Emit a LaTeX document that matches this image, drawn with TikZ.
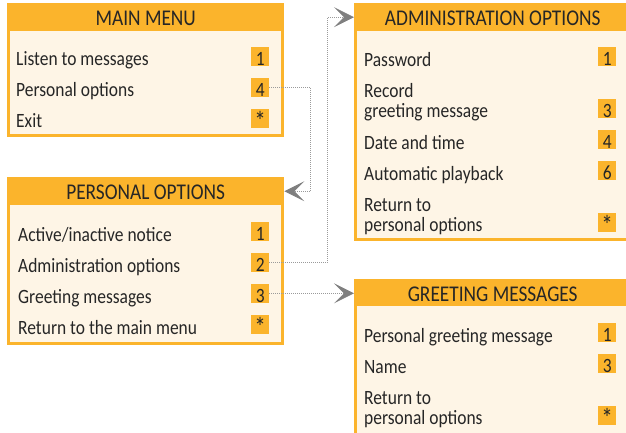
\documentclass[tikz,border=0pt]{standalone}
\usepackage{fontspec}
\setmainfont{Carlito}[FakeStretch=0.86]
\usetikzlibrary{arrows.meta}
\definecolor{org}{HTML}{FBB42C}
\definecolor{light}{HTML}{FEF5E6}
\definecolor{txt}{HTML}{262626}
\definecolor{agray}{HTML}{7F7F7F}
\definecolor{lgray}{HTML}{9A9A9A}
\newcommand{\astx}{\raisebox{-3pt}{\fontsize{27}{27}\selectfont *}}
\begin{document}
\begin{tikzpicture}[x=1pt,y=-1pt,
  hdr/.style={fill=org, text=txt, font=\fontsize{22.5}{22.5}\selectfont, minimum width=277pt, minimum height=28pt, inner sep=0pt, text height=17.5pt, text depth=0pt, anchor=north west},
  num/.style={fill=org, text=txt, font=\fontsize{20.3}{20.3}\selectfont, minimum width=18pt, minimum height=19pt, inner sep=0pt, text height=19pt, text depth=0pt, anchor=south west},
  item/.style={text=txt, font=\fontsize{20.3}{20.3}\selectfont, inner sep=0pt, anchor=base west},
  link/.style={draw=lgray, line width=0.8pt, dash pattern=on 0.8pt off 1.2pt, -{Stealth[length=20pt,width=20pt,inset=10pt,color=agray]}}
]
\useasboundingbox (0,0) rectangle (626,432);
% frames
\fill[org] (7,3) rectangle (284,137);
\fill[light] (10,31) rectangle (281,134);
\fill[org] (7,177) rectangle (284,345);
\fill[light] (10,205) rectangle (281,342);
\fill[org] (354,3) rectangle (631,241);
\fill[light] (357,31) rectangle (628,238);
\fill[org] (354,279) rectangle (631,445);
\fill[light] (357,306) rectangle (628,442);
% main menu
\node[hdr] (mmh) at (7,3) {MAIN MENU};
\node[item] (mm1t) at (16,65.5) {Listen to messages};
\node[num] (mm1) at (251,66) {1};
\node[item] (mm4t) at (16,96.5) {Personal options};
\node[num] (mm4) at (251,97) {4};
\node[item] (mmxt) at (16,127.5) {Exit};
\node[num] (mmx) at (251,128) {\astx};
% personal options
\node[hdr] (poh) at (7,177) {PERSONAL OPTIONS};
\node[item] (po1t) at (18,241) {Active/inactive notice};
\node[num] (po1) at (251,241) {1};
\node[item] (po2t) at (18,272) {Administration options};
\node[num] (po2) at (251,272) {2};
\node[item] (po3t) at (18,303) {Greeting messages};
\node[num] (po3) at (251,303) {3};
\node[item] (poxt) at (18,334) {Return to the main menu};
\node[num] (pox) at (251,334) {\astx};
% administration options
\node[hdr] (adh) at (354,3) {ADMINISTRATION OPTIONS};
\node[item] (ad1t) at (364,66) {Password};
\node[num] (ad1) at (598,66) {1};
\node[item] (ad3a) at (364,97) {Record};
\node[item] (ad3t) at (364,117) {greeting message};
\node[num] (ad3) at (598,118) {3};
\node[item] (ad4t) at (364,149) {Date and time};
\node[num] (ad4) at (598,149) {4};
\node[item] (ad6t) at (364,180) {Automatic playback};
\node[num] (ad6) at (598,180) {6};
\node[item] (adxa) at (364,211) {Return to};
\node[item] (adxt) at (364,231) {personal options};
\node[num] (adx) at (598,232) {\astx};
% greeting messages
\node[hdr, minimum height=27pt] (gmh) at (354,279) {GREETING MESSAGES};
\node[item] (gm1t) at (364,342) {Personal greeting message};
\node[num] (gm1) at (598,342) {1};
\node[item] (gm3t) at (364,373) {Name};
\node[num] (gm3) at (598,373) {3};
\node[item] (gmxa) at (364,404) {Return to};
\node[item] (gmxt) at (364,424) {personal options};
\node[num] (gmx) at (598,425) {\astx};
% connectors
\draw[link] (mm4.east) -- ++(41,0) |- (poh.east);
\draw[link] (po2.east) -- ++(58,0) |- (adh.west);
\draw[link] (po3.east) -- (po3.east -| gmh.west);
\end{tikzpicture}
\end{document}
